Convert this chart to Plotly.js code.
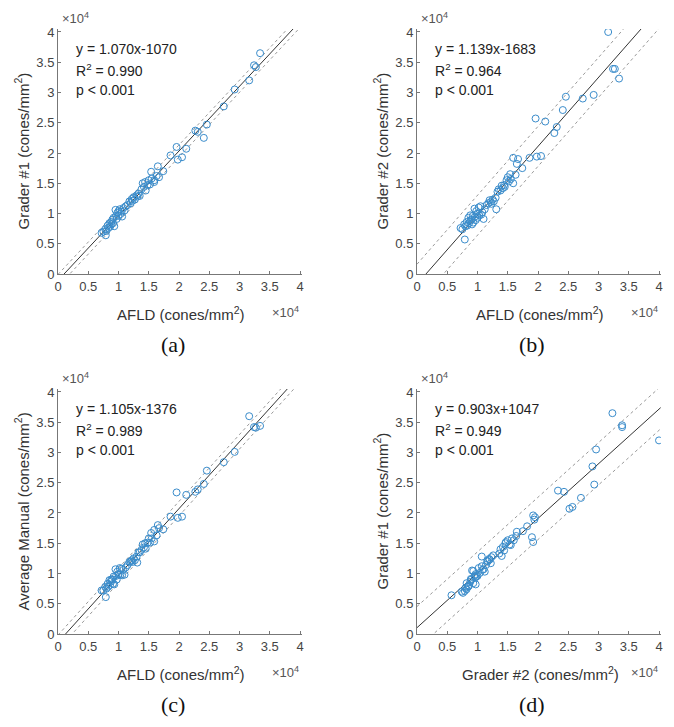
<!DOCTYPE html>
<html>
<head>
<meta charset="utf-8">
<script src="https://cdn.plot.ly/plotly-3.0.1.min.js"></script>
<style>
  html, body { margin: 0; padding: 0; background: #fff; }
  #plot { width: 674px; height: 727px; }
</style>
</head>
<body>
<div id="plot"></div>
<script>
// cone density per subject, in units of 10^4 cones/mm^2
var afld = [3.34, 3.24, 3.27, 3.16, 2.92, 2.74, 2.46, 2.41, 2.27, 2.31, 2.12, 1.96, 1.98, 1.86, 2.05,
  1.59, 1.67, 1.65, 1.74, 1.54, 1.63, 1.59, 1.31, 0.79, 0.72,
  0.75, 0.78, 0.80, 0.82, 0.83, 0.85, 0.86, 0.88, 0.88, 0.90, 0.91, 0.92, 0.93, 0.95, 0.96,
  0.97, 0.98, 1.00, 1.00, 1.02, 1.03, 1.05, 1.06, 1.08, 1.10, 1.12, 1.15, 1.18, 1.20, 1.22,
  1.23, 1.25, 1.27, 1.30, 1.33, 1.35, 1.38, 1.40, 1.42, 1.44, 1.45, 1.48, 1.50, 1.52, 1.55];

var grader1 = [3.65, 3.45, 3.42, 3.20, 3.05, 2.77, 2.47, 2.25, 2.37, 2.35, 2.07, 2.10, 1.89, 1.96, 1.93,
  1.52, 1.60, 1.78, 1.70, 1.69, 1.62, 1.55, 1.28, 0.64, 0.68,
  0.70, 0.74, 0.71, 0.80, 0.76, 0.84, 0.78, 0.86, 0.82, 0.90, 0.84, 0.93, 0.79, 1.06, 0.96,
  0.91, 1.01, 0.96, 1.04, 1.07, 0.99, 1.03, 0.95, 1.09, 1.05, 1.12, 1.14, 1.20, 1.17, 1.24,
  1.21, 1.27, 1.23, 1.30, 1.33, 1.29, 1.40, 1.50, 1.44, 1.52, 1.38, 1.47, 1.55, 1.48, 1.58];

var grader2 = [3.23, 3.39, 3.39, 4.00, 2.96, 2.90, 2.93, 2.71, 2.33, 2.43, 2.52, 2.57, 1.94, 1.92, 1.95,
  1.92, 1.90, 1.82, 1.75, 1.65, 1.64, 1.50, 1.07, 0.57, 0.76,
  0.74, 0.82, 0.79, 0.86, 0.80, 0.93, 0.84, 0.88, 0.97, 0.90, 0.82, 0.96, 0.85, 1.08, 0.95,
  0.89, 1.04, 1.00, 0.93, 1.10, 0.97, 1.12, 0.98, 1.02, 0.91, 1.07, 1.14, 1.17, 1.22, 1.19,
  1.16, 1.23, 1.20, 1.26, 1.36, 1.40, 1.38, 1.46, 1.42, 1.47, 1.44, 1.55, 1.60, 1.53, 1.57];

var avgManual = [3.44, 3.42, 3.41, 3.60, 3.01, 2.84, 2.70, 2.48, 2.35, 2.39, 2.30, 2.34, 1.92, 1.94, 1.94,
  1.72, 1.75, 1.80, 1.73, 1.67, 1.63, 1.53, 1.18, 0.61, 0.72,
  0.72, 0.78, 0.75, 0.83, 0.78, 0.89, 0.81, 0.87, 0.90, 0.90, 0.83, 0.95, 0.82, 1.07, 0.96,
  0.90, 1.03, 0.98, 0.99, 1.09, 0.98, 1.08, 0.97, 1.06, 0.98, 1.10, 1.14, 1.19, 1.20, 1.22,
  1.19, 1.25, 1.22, 1.28, 1.35, 1.35, 1.39, 1.48, 1.43, 1.50, 1.41, 1.51, 1.58, 1.51, 1.58];

// regression results printed on each panel (slope, intercept in 10^4 units, bound offset)
var slopes = [1.070, 1.139, 1.105, 0.903];
var intercepts = [-0.1070, -0.1683, -0.1376, 0.1047];
var bounds = [0.10, 0.33, 0.12, 0.35];
var eqText = ['y = 1.070x-1070', 'y = 1.139x-1683', 'y = 1.105x-1376', 'y = 0.903x+1047'];
var r2Text = ['0.990', '0.964', '0.989', '0.949'];
var xTitles = ['AFLD (cones/mm<sup>2</sup>)', 'AFLD (cones/mm<sup>2</sup>)',
  'AFLD (cones/mm<sup>2</sup>)', 'Grader #2 (cones/mm<sup>2</sup>)'];
var yTitles = ['Grader #1 (cones/mm<sup>2</sup>)', 'Grader #2 (cones/mm<sup>2</sup>)',
  'Average Manual (cones/mm<sup>2</sup>)', 'Grader #1 (cones/mm<sup>2</sup>)'];
var captions = ['(a)', '(b)', '(c)', '(d)'];
var panelX = [afld, afld, afld, grader2];
var panelY = [grader1, grader2, avgManual, grader1];

var W = 674, H = 727;
var colLeft = [58, 417];
var rowBottom = [274, 634];
var pxPerUnit = 60.5;
var xMax = 4.03, yMax = 4.05;

var fitX = [0, 4.03];
var data = [];
var annotations = [];
var layout = {
  width: W, height: H,
  margin: {l: 0, r: 0, t: 0, b: 0},
  paper_bgcolor: '#fff', plot_bgcolor: '#fff',
  showlegend: false,
  font: {family: 'Liberation Sans, Arial, sans-serif', color: '#444'}
};

for (var p = 0; p < 4; p++) {
  var col = p % 2, row = Math.floor(p / 2);
  var n = p === 0 ? '' : String(p + 1);
  var xa = 'x' + n, ya = 'y' + n;
  var leftPx = colLeft[col], bottomPx = rowBottom[row];
  var rightPx = leftPx + xMax * pxPerUnit, topPx = bottomPx - yMax * pxPerUnit;

  var axStyle = {
    showgrid: false, zeroline: false, showline: true,
    linecolor: '#777', linewidth: 1,
    ticks: 'inside', ticklen: 3, tickcolor: '#777',
    tickmode: 'linear', tick0: 0, dtick: 0.5,
    tickfont: {size: 13, color: '#444'},
    fixedrange: true
  };
  layout['xaxis' + n] = Object.assign({}, axStyle, {
    domain: [leftPx / W, rightPx / W], range: [0, xMax], anchor: ya
  });
  layout['yaxis' + n] = Object.assign({}, axStyle, {
    domain: [1 - bottomPx / H, 1 - topPx / H], range: [0, yMax], anchor: xa
  });

  var m = slopes[p], b = intercepts[p], d = bounds[p];
  var fitY = fitX.map(function (v) { return m * v + b; });
  var upY = fitX.map(function (v) { return m * v + b + d; });
  var loY = fitX.map(function (v) { return m * v + b - d; });

  data.push({x: fitX, y: upY, xaxis: xa, yaxis: ya, mode: 'lines', type: 'scatter',
    line: {color: '#999', width: 1, dash: 'dot'}, hoverinfo: 'skip'});
  data.push({x: fitX, y: loY, xaxis: xa, yaxis: ya, mode: 'lines', type: 'scatter',
    line: {color: '#999', width: 1, dash: 'dot'}, hoverinfo: 'skip'});
  data.push({x: fitX, y: fitY, xaxis: xa, yaxis: ya, mode: 'lines', type: 'scatter',
    line: {color: '#333', width: 1}, hoverinfo: 'skip'});
  data.push({x: panelX[p], y: panelY[p], xaxis: xa, yaxis: ya, mode: 'markers', type: 'scatter',
    marker: {symbol: 'circle-open', size: 7, color: '#3a8ccb', line: {width: 1}}});

  var eqFont = {size: 14, color: '#222'};
  annotations.push({xref: xa, yref: ya, x: 0.26, y: 3.72, xanchor: 'left', yanchor: 'middle',
    text: eqText[p], showarrow: false, font: eqFont});
  annotations.push({xref: xa, yref: ya, x: 0.26, y: 3.37, xanchor: 'left', yanchor: 'middle',
    text: 'R<sup>2</sup> = ' + r2Text[p], showarrow: false, font: eqFont});
  annotations.push({xref: xa, yref: ya, x: 0.26, y: 3.04, xanchor: 'left', yanchor: 'middle',
    text: 'p &lt; 0.001', showarrow: false, font: eqFont});

  // exponent labels
  annotations.push({xref: 'paper', yref: 'paper', x: (leftPx + 2) / W, y: 1 - (topPx - 11) / H,
    xanchor: 'left', yanchor: 'middle', text: '\u00d710<sup>4</sup>', showarrow: false,
    font: {size: 13, color: '#555'}});
  annotations.push({xref: 'paper', yref: 'paper', x: (leftPx + 212) / W, y: 1 - (bottomPx + 38) / H,
    xanchor: 'left', yanchor: 'middle', text: '\u00d710<sup>4</sup>', showarrow: false,
    font: {size: 13, color: '#555'}});

  // axis titles
  annotations.push({xref: 'paper', yref: 'paper', x: (leftPx + 123) / W,
    y: 1 - (bottomPx + 39) / H, xanchor: 'center', yanchor: 'middle', text: xTitles[p],
    showarrow: false, font: {size: 15, color: '#333'}});
  annotations.push({xref: 'paper', yref: 'paper', x: (leftPx - 36) / W, y: 1 - (bottomPx + topPx) / 2 / H,
    xanchor: 'center', yanchor: 'middle', textangle: -90, text: yTitles[p],
    showarrow: false, font: {size: 15, color: '#333'}});

  // panel caption
  annotations.push({xref: 'paper', yref: 'paper', x: (leftPx + 115) / W, y: 1 - (bottomPx + 70) / H,
    xanchor: 'center', yanchor: 'middle', text: captions[p], showarrow: false,
    font: {family: 'Liberation Serif, Times New Roman, serif', size: 22, color: '#111'}});
}

layout.annotations = annotations;
Plotly.newPlot('plot', data, layout, {staticPlot: true});
</script>
</body>
</html>
